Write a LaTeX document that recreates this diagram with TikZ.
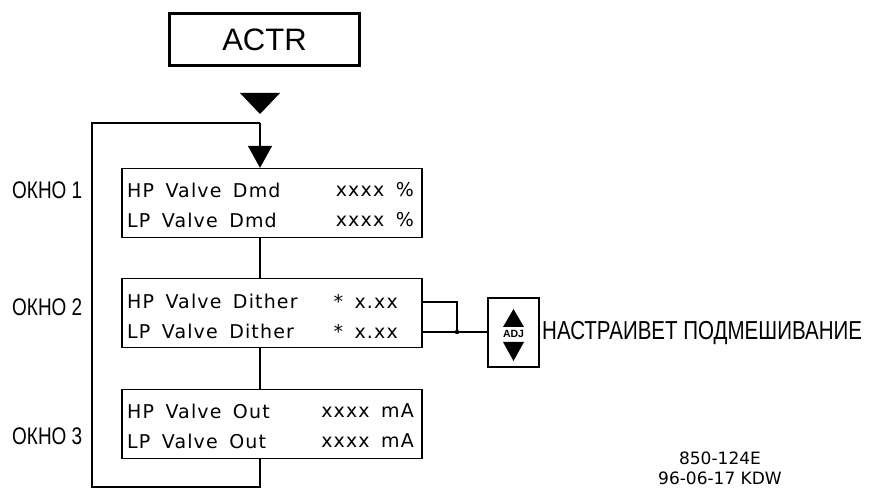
\documentclass[tikz,border=0pt]{standalone}
\usepackage{fontspec}
\setmainfont{Liberation Sans}
\newfontfamily\cadfont{DejaVu Sans}[LetterSpace=6,WordSpace=1.6]
\newfontfamily\plainfont{DejaVu Sans}
\newfontfamily\narrowfont{Liberation Sans}[FakeStretch=0.79]
\usepackage{tikz}
\usetikzlibrary{arrows.meta}
\tikzset{screen/.style = {shape = rectangle, draw, line width = 1.3pt, minimum width = 300pt, minimum height = 69pt, inner sep = 0}}
\tikzset{row/.style = {anchor = west, inner sep = 0, font = \cadfont\fontsize{19}{19}\selectfont}}
\tikzset{value/.style = {row, anchor = east}}
\tikzset{window/.style = {anchor = west, inner sep = 0, font = \narrowfont\fontsize{24}{24}\selectfont}}
\tikzset{edge/.style = {-, line width = 1.2pt}}
\tikzset{feed/.style = {edge, -{Triangle[length = 22pt, width = 24pt]}}}

\begin{document}
\begin{tikzpicture}[x = 1pt, y = -1pt]
				\useasboundingbox (0, 0) rectangle (871, 489);

				\node[draw, line width = 3.5pt, minimum width = 190pt, minimum height = 52pt, font = \fontsize{31}{31}\selectfont] (actr) at (264.5, 39.5) {ACTR};
				\fill (240, 93) -- (280, 93) -- (260, 114) -- cycle;

				\node[screen] (w1) at (272, 203) {};
				\node[screen] (w2) at (272, 313) {};
				\node[screen] (w3) at (272, 424) {};

				\node[row] (r1a) at (127, 190) {HP Valve Dmd};
				\node[row] (r1b) at (127, 220) {LP Valve Dmd};
				\node[value] (v1a) at (414, 190) {xxxx \%};
				\node[value] (v1b) at (414, 220) {xxxx \%};

				\node[row] (r2a) at (127, 301) {HP Valve Dither};
				\node[row] (r2b) at (127, 331) {LP Valve Dither};
				\node[value] (v2a) at (398, 301) {* x.xx};
				\node[value] (v2b) at (398, 331) {* x.xx};

				\node[row] (r3a) at (127, 411) {HP Valve Out};
				\node[row] (r3b) at (127, 441) {LP Valve Out};
				\node[value] (v3a) at (414, 411) {xxxx mA};
				\node[value] (v3b) at (414, 441) {xxxx mA};

				\node[window] (k1) at (12, 190) {ОКНО 1};
				\node[window] (k2) at (12, 307) {ОКНО 2};
				\node[window] (k3) at (12, 436) {ОКНО 3};

				\node[draw, line width = 1.2pt, minimum width = 51pt, minimum height = 69pt, inner sep = 0] (adj) at (513.5, 332.5) {};
				\fill (503, 327) -- (524, 327) -- (513.5, 309) -- cycle;
				\fill (503, 342) -- (524, 342) -- (513.5, 361) -- cycle;
				\node[inner sep = 0, font = \bfseries\fontsize{10.5}{10.5}\selectfont] (adjtext) at (513.5, 334) {ADJ};
				\node[anchor = west, inner sep = 0, font = \narrowfont\fontsize{26}{26}\selectfont] (note) at (542, 333) {НАСТРАИВЕТ ПОДМЕШИВАНИЕ};

				\node[inner sep = 0, font = \plainfont\fontsize{17}{17}\selectfont] (dwg) at (720, 458) {850-124E};
				\node[inner sep = 0, font = \plainfont\fontsize{17}{17}\selectfont] (date) at (720, 478) {96-06-17 KDW};

				\coordinate (top) at (260, 123);
				\coordinate (low) at (92, 487);
				\coordinate (junc) at (457, 332);

				\draw[feed] (top) to (w1.north -| top);
				\draw[edge] (w1.south -| top) to (w2.north -| top);
				\draw[edge] (w2.south -| top) to (w3.north -| top);
				\draw[edge] (w3.south -| top) |- (low) |- (top);
				\draw[edge] (w2.east |- 0, 302) -| (junc);
				\draw[edge] (w2.east |- junc) to (adj.west |- junc);
				\fill (junc) circle (2.2pt);
			\end{tikzpicture}
\end{document}
